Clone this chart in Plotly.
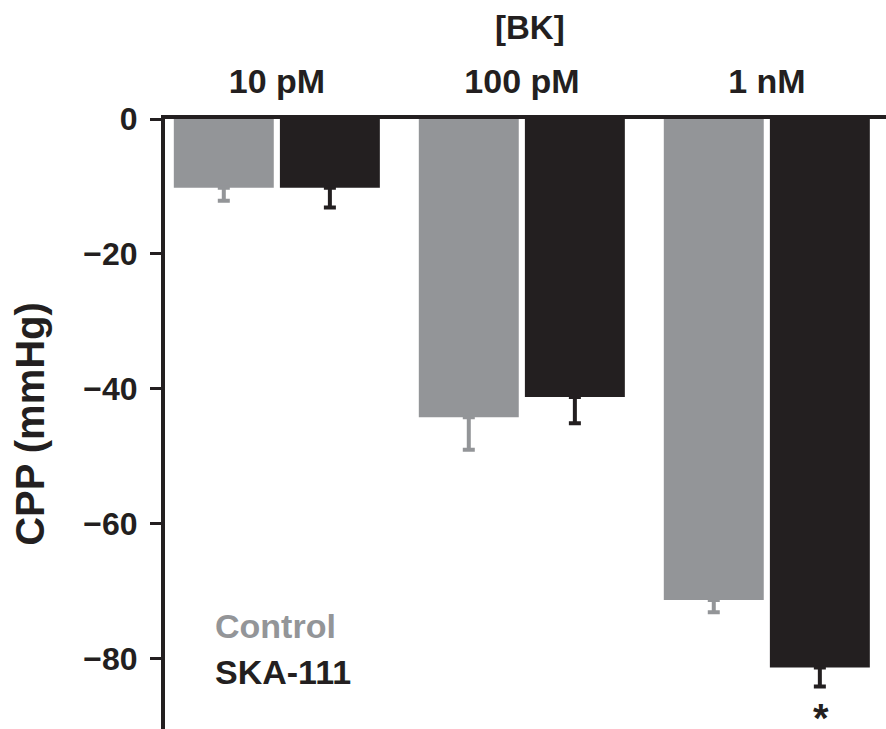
import plotly.graph_objects as go

concentrations = ["10 pM", "100 pM", "1 nM"]
control_mean = [-10.2, -44.2, -71.3]
control_sem = [1.9, 4.8, 1.8]
ska_mean = [-10.2, -41.2, -81.3]
ska_sem = [2.9, 3.9, 2.8]
y_ticks = [0, -20, -40, -60, -80]
y_tick_text = ["0", "\u221220", "\u221240", "\u221260", "\u221280"]

GRAY = "#939598"
BLACK = "#231f20"
FONT = "Liberation Sans, Arial, sans-serif"

fig = go.Figure()
fig.add_trace(go.Bar(
    x=concentrations, y=control_mean, name="Control",
    marker=dict(color=GRAY, line=dict(width=0)),
    width=0.408, offset=-0.421,
    error_y=dict(type="data", symmetric=False, array=[0]*3, arrayminus=control_sem,
                 color=GRAY, thickness=4, width=6),
))
fig.add_trace(go.Bar(
    x=concentrations, y=ska_mean, name="SKA-111",
    marker=dict(color=BLACK, line=dict(width=0)),
    width=0.408, offset=0.012,
    error_y=dict(type="data", symmetric=False, array=[0]*3, arrayminus=ska_sem,
                 color=BLACK, thickness=4, width=6),
))

L = 165
fig.update_layout(
    width=886, height=729,
    margin=dict(l=L, r=0, t=119, b=0),
    plot_bgcolor="white", paper_bgcolor="white",
    showlegend=False,
    barmode="overlay",
    font=dict(family=FONT, color=BLACK),
    xaxis=dict(
        side="top", type="category", range=[-0.457, 2.486],
        automargin=False,
        showline=True, linecolor=BLACK, linewidth=4,
        ticks="", showgrid=False, zeroline=False,
        tickfont=dict(size=34, family=FONT, color=BLACK, weight="bold"),
        ticklabelstandoff=8,
    ),
    yaxis=dict(
        range=[-90.4, 0], tickvals=y_ticks, ticktext=y_tick_text,
        automargin=False,
        showline=True, linecolor=BLACK, linewidth=4,
        ticks="outside", ticklen=11, tickwidth=3, tickcolor=BLACK,
        showgrid=False, zeroline=False,
        tickfont=dict(size=32, family=FONT, color=BLACK, weight="bold"),
        ticklabelstandoff=6,
        title=dict(text="CPP (mmHg)", standoff=27,
                   font=dict(size=40, family=FONT, color=BLACK, weight="bold")),
    ),
)

fig.add_annotation(text="[BK]", xref="paper", yref="paper", x=(530-L)/(886-L), y=1.0,
                   yshift=92, showarrow=False, xanchor="center", yanchor="middle",
                   font=dict(size=33, family=FONT, color=BLACK, weight="bold"))
fig.add_annotation(text="Control", xref="paper", yref="paper", x=(213-L)/(886-L), y=(729-626)/610,
                   showarrow=False, xanchor="left", yanchor="middle",
                   font=dict(size=34, family=FONT, color=GRAY, weight="bold"))
fig.add_annotation(text="SKA-111", xref="paper", yref="paper", x=(213-L)/(886-L), y=(729-672)/610,
                   showarrow=False, xanchor="left", yanchor="middle",
                   font=dict(size=34, family=FONT, color=BLACK, weight="bold"))
# significance marker under SKA-111 at 1 nM
fig.add_annotation(text="*", xref="x", yref="y", x=2 + 0.012 + 0.204,
                   y=ska_mean[2] - ska_sem[2], yshift=-8, xshift=1,
                   showarrow=False, xanchor="center", yanchor="top",
                   font=dict(size=40, family=FONT, color=BLACK, weight="bold"))

fig.write_html("out.html", config={"displayModeBar": False},
               post_script="document.body.style.margin='0';document.body.style.padding='0';")
